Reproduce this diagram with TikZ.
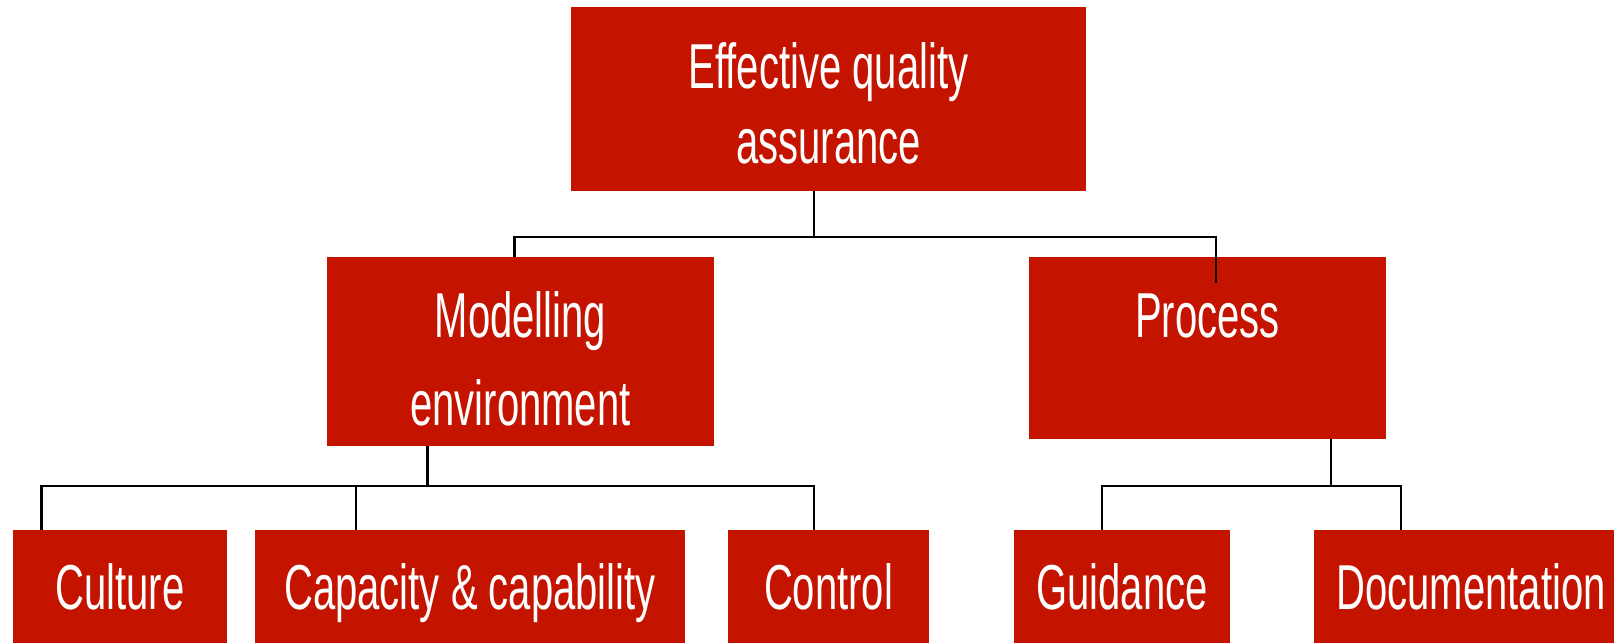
\documentclass[tikz,border=0pt]{standalone}
\usepackage{fontspec}
\setmainfont[FakeStretch=0.63]{Liberation Sans}
\definecolor{boxred}{RGB}{196,20,0}
\begin{document}
\begin{tikzpicture}[x=0.5pt,y=-0.5pt,
  box/.style={fill=boxred,draw=none,inner sep=0pt,rectangle},
  lbl/.style={text=white,inner sep=0pt,anchor=base,align=center,
    font=\fontsize{31.75}{37.5}\selectfont},
  conn/.style={draw=black,line width=1.3pt,line join=miter}]
\useasboundingbox (0,0) rectangle (1614,643);
% boxes
\node[box,minimum width=257.5pt,minimum height=92pt] (top) at (828.5,99) {};
\node[box,minimum width=193.5pt,minimum height=94.5pt] (mod) at (520.5,351.5) {};
\node[box,minimum width=178.5pt,minimum height=91pt] (proc) at (1207.5,348) {};
\node[box,minimum width=107pt,minimum height=56.5pt] (cul) at (120,586.5) {};
\node[box,minimum width=215pt,minimum height=56.5pt] (cap) at (470,586.5) {};
\node[box,minimum width=100.5pt,minimum height=56.5pt] (ctl) at (828.5,586.5) {};
\node[box,minimum width=108pt,minimum height=56.5pt] (gui) at (1122,586.5) {};
\node[box,minimum width=150pt,minimum height=56.5pt] (doc) at (1464,586.5) {};
% labels (multi-line: base = last line's baseline)
\node[lbl] (topT) at (828.5,163) {Effective quality\\assurance};
\node[lbl,font=\fontsize{31.75}{44}\selectfont] (modT) at (520.5,425) {Modelling\\environment};
\node[lbl] (procT) at (1207.5,337) {Process};
\node[lbl] (culT) at (120,609) {Culture};
\node[lbl] (capT) at (470,609) {Capacity \& capability};
\node[lbl] (ctlT) at (828.5,609) {Control};
\node[lbl] (guiT) at (1122,609) {Guidance};
\node[lbl] (docT) at (1471,609) {Documentation};
% junctions
\coordinate (j1) at (814,237);
\coordinate (hl) at (514.5,237);
\coordinate (hr) at (1216,237);
\coordinate (m1) at (427.5,486);
\coordinate (a1) at (41.7,486);
\coordinate (a2) at (356,486);
\coordinate (a3) at (814,486);
\coordinate (m2) at (1331,486);
\coordinate (b1) at (1102,486);
\coordinate (b2) at (1401,486);
% connectors
\draw[conn] (top.south -| j1) -- (j1);
\draw[conn] (mod.north -| hl) -- (hl) -- (hr) -- ([yshift=-13pt]proc.north -| hr);
\draw[conn] (mod.south -| m1) -- (m1);
\draw[conn] (cul.north -| a1) -- (a1) -- (a3) -- (ctl.north -| a3);
\draw[conn] (a2) -- (cap.north -| a2);
\draw[conn] (proc.south -| m2) -- (m2);
\draw[conn] (gui.north -| b1) -- (b1) -- (b2) -- (doc.north -| b2);
\end{tikzpicture}
\end{document}
